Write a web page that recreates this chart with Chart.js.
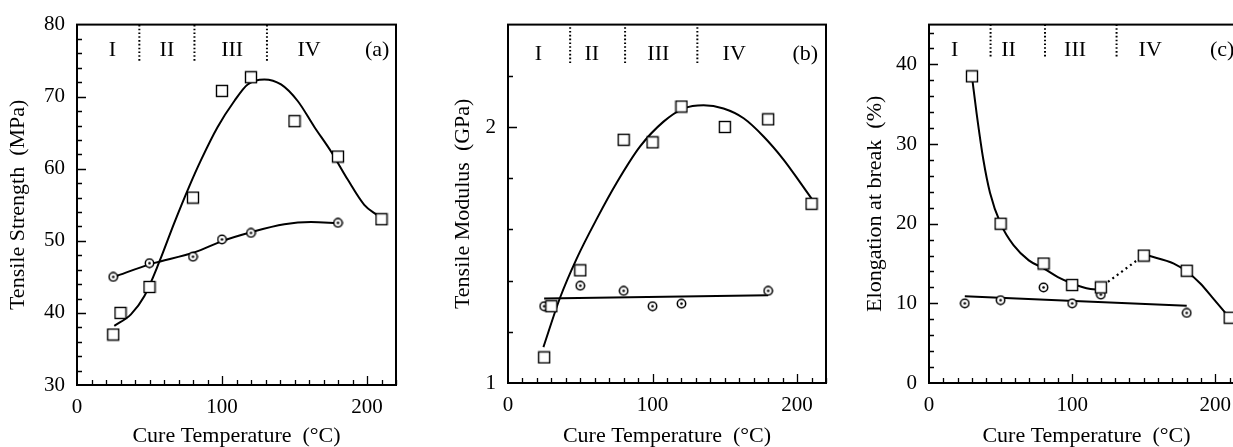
<!DOCTYPE html>
<html><head><meta charset="utf-8">
<script src="https://cdn.jsdelivr.net/npm/chart.js@4/dist/chart.umd.min.js"></script>
<style>
html,body{margin:0;padding:0;background:#fff;overflow:hidden;width:1233px;height:447px;position:relative;}
canvas{position:absolute;top:0;display:block;}
</style></head><body>
<canvas id="ca" width="410" height="447" style="left:0px"></canvas>
<canvas id="cb" width="420" height="447" style="left:420px"></canvas>
<canvas id="cc" width="418" height="447" style="left:840px"></canvas>
<script>
// ---------- DATA ----------
const sqTemp   = [25, 30, 50, 80, 100, 120, 150, 180, 210];
const circTemp = [25, 50, 80, 100, 120, 180];
const strengthSq   = [37, 40, 43.6, 56, 70.8, 72.7, 66.6, 61.7, 53];
const strengthCirc = [45, 46.9, 47.8, 50.2, 51.1, 52.5];
const modulusSq    = [1.10, 1.30, 1.44, 1.95, 1.94, 2.08, 2.00, 2.03, 1.70];
const modulusCirc  = [1.30, 1.38, 1.36, 1.30, 1.31, 1.36];
const elongSqTemp  = [30, 50, 80, 100, 120, 150, 180, 210];
const elongSq      = [38.5, 20, 15, 12.3, 12, 16, 14.1, 8.2];
const elongCirc    = [10, 10.4, 12, 10, 11.1, 8.8];

// fitted curves
const fitStrSqT = [25.7, 37.2, 46.4, 56.8, 67.1, 77.5, 85.5, 97, 108.5, 117.7, 129.2, 140.7, 152.2, 163.7, 175.2, 186.7, 198.1, 207.4];
const fitStrSqV = [38.2, 39.8, 42.3, 47.1, 52.5, 57.6, 61.2, 65.8, 69.4, 71.7, 72.4, 71.7, 69.4, 65.8, 62.4, 58.5, 55.0, 53.5];
const fitStrCiT = [25.7, 51, 80.9, 100.5, 120, 143, 161.4, 179.8];
const fitStrCiV = [45.0, 46.8, 48.4, 50.0, 51.2, 52.3, 52.6, 52.45];
const fitModSqT = [24.5, 36, 47.6, 61.4, 75.3, 91.4, 107.6, 121.4, 135.3, 149.1, 163, 176.8, 190.6, 202.2, 210.3];
const fitModSqV = [1.14, 1.333, 1.487, 1.641, 1.783, 1.924, 2.021, 2.072, 2.085, 2.072, 2.034, 1.963, 1.873, 1.783, 1.718];
const fitModCiT = [25, 180];
const fitModCiV = [1.33, 1.343];
const fitElSq1T = [30, 33.3, 38, 42.6, 50, 59, 69.7, 80, 90, 100, 110, 120];
const fitElSq1V = [38.5, 33.8, 28.0, 23.9, 20, 17.3, 15.4, 14.4, 13.3, 12.5, 11.9, 11.7];
const fitElDotT = [125, 146];
const fitElDotV = [12.7, 15.5];
const fitElSq2T = [153, 171, 180, 189.5, 199, 207];
const fitElSq2V = [16.0, 15.0, 14.0, 12.5, 10.5, 8.8];
const fitElCiT  = [25, 180];
const fitElCiV  = [10.9, 9.7];

const regionNames  = ['I', 'II', 'III', 'IV'];
const regionBounds = [43, 81, 131];
const xTickLabels  = [0, 100, 200];

// ---------- helpers ----------
const SERIF = '"Liberation Serif", "Times New Roman", serif';
Chart.defaults.font.family = SERIF;
Chart.defaults.color = '#000';

function pts(xs, ys){ return xs.map((x,i)=>({x:x, y:ys[i]})); }

function squareMarker(){
  const c=document.createElement('canvas'); c.width=14; c.height=14;
  const g=c.getContext('2d');
  g.fillStyle='#fff'; g.fillRect(1,1,12,12);
  g.strokeStyle='#000'; g.lineWidth=1.4; g.strokeRect(1.5,1.5,11,11);
  return c;
}
function circleMarker(){
  const c=document.createElement('canvas'); c.width=11; c.height=11;
  const g=c.getContext('2d');
  g.beginPath(); g.arc(5.5,5.5,4.2,0,Math.PI*2);
  g.fillStyle='#fff'; g.fill();
  g.strokeStyle='#000'; g.lineWidth=1.5; g.stroke();
  g.beginPath(); g.arc(5.5,5.5,1.3,0,Math.PI*2); g.fillStyle='#000'; g.fill();
  return c;
}
const SQ = squareMarker(), CI = circleMarker();

const framePlugin = {
  id: 'frame',
  afterDatasetsDraw(chart){
    const o = chart.options.plugins.frame;
    const {ctx, chartArea:a} = chart;
    const xs = chart.scales.x, ys = chart.scales.y;
    ctx.save();
    ctx.strokeStyle = '#000';
    ctx.lineWidth = 2;
    ctx.strokeRect(a.left, a.top, a.right - a.left, a.bottom - a.top);
    ctx.lineWidth = 1.3;
    ctx.beginPath();
    for (let i = 1; i * o.xMinor <= xs.max; i++) {
      const v = i * o.xMinor;
      const px = Math.round(xs.getPixelForValue(v)) + 0.5;
      const major = Math.abs(v / o.xMajor - Math.round(v / o.xMajor)) < 1e-6;
      ctx.moveTo(px, a.bottom); ctx.lineTo(px, a.bottom - (major ? 9 : 5));
    }
    const n = Math.round((ys.max - ys.min) / o.yMinor);
    for (let i = 1; i < n; i++) {
      const v = ys.min + i * o.yMinor;
      const py = Math.round(ys.getPixelForValue(v)) + 0.5;
      const r = (v - ys.min) / o.yMajor;
      const major = Math.abs(r - Math.round(r)) < 1e-6;
      ctx.moveTo(a.left, py); ctx.lineTo(a.left + (major ? 9 : 5), py);
    }
    ctx.stroke();
    ctx.fillStyle = '#000';
    ctx.font = '22px ' + SERIF;
    ctx.textAlign = 'center';
    ctx.textBaseline = 'alphabetic';
    const ly = ys.getPixelForValue(o.labelY);
    o.labelX.forEach((lx, i) => ctx.fillText(regionNames[i], xs.getPixelForValue(lx), ly));
    ctx.fillText(o.panel, xs.getPixelForValue(o.panelX), ly);
    ctx.restore();
  }
};

function makePanel(id, p){
  const datasets = [
    {data: pts(p.sqT, p.sqV), pointStyle: SQ, pointRadius: 7, showLine: false, order: 0},
    {data: pts(circTemp, p.ciV), pointStyle: CI, pointRadius: 5, showLine: false, order: 1},
  ];
  p.curves.forEach(c => datasets.push({
    data: pts(c[0], c[1]), showLine: true, pointRadius: 0, borderColor: '#000',
    borderWidth: c[2] ? 2.2 : 2, borderDash: c[2] ? [2, 3.5] : [],
    cubicInterpolationMode: 'monotone', order: 5
  }));
  regionBounds.forEach(b => datasets.push({
    data: [{x: b, y: p.bndLo}, {x: b, y: p.yMax}], showLine: true, pointRadius: 0,
    borderColor: '#000', borderWidth: 2, borderDash: [1.6, 2.2], order: 6
  }));
  return new Chart(document.getElementById(id), {
    type: 'scatter',
    data: {datasets},
    plugins: [framePlugin],
    options: {
      responsive: false, animation: false,
      layout: {padding: {top: p.padTop, right: p.padRight, left: 0, bottom: 0}},
      plugins: {legend: {display: false}, tooltip: {enabled: false},
        frame: {xMinor: 10, xMajor: 100, yMinor: p.yMinor, yMajor: p.yMajor,
                labelX: p.labelX, labelY: p.labelY, panel: p.panel, panelX: p.panelX}},
      scales: {
        x: {type: 'linear', min: 0, max: 220,
            afterBuildTicks: s => { s.ticks = xTickLabels.map(v => ({value: v})); },
            afterFit: s => { s.height = p.xHeight; },
            grid: {display: false, drawTicks: false}, border: {display: false},
            ticks: {font: {size: 21}, padding: 10, maxRotation: 0, color: '#000'},
            title: {display: true, text: 'Cure Temperature  (°C)', font: {size: 22, lineHeight: 1.0}, padding: {top: 0, bottom: 0}, color: '#000'}},
        y: {type: 'linear', min: p.yMin, max: p.yMax,
            afterBuildTicks: s => { s.ticks = p.yLabels.map(v => ({value: v})); },
            afterFit: s => { s.width = p.yWidth; },
            grid: {display: false, drawTicks: false}, border: {display: false},
            ticks: {font: {size: 21}, padding: 12, color: '#000'},
            title: {display: true, text: p.yTitle, font: {size: 22, lineHeight: 1.2}, padding: {top: p.yTitlePad, bottom: 0}, color: '#000'}}
      }
    }
  });
}

makePanel('ca', {
  sqT: sqTemp, sqV: strengthSq, ciV: strengthCirc,
  curves: [[fitStrSqT, fitStrSqV], [fitStrCiT, fitStrCiV]],
  yMin: 30, yMax: 80, yMinor: 2, yMajor: 10, yLabels: [30, 40, 50, 60, 70, 80],
  bndLo: 75, padTop: 19, padRight: 14, yWidth: 77, xHeight: 62, yTitlePad: 5.1,
  yTitle: 'Tensile Strength  (MPa)', labelX: [24.5, 62, 107, 160], labelY: 75.6, panel: '(a)', panelX: 207
});
makePanel('cb', {
  sqT: sqTemp, sqV: modulusSq, ciV: modulusCirc,
  curves: [[fitModSqT, fitModSqV], [fitModCiT, fitModCiV]],
  yMin: 1, yMax: 2.4, yMinor: 0.2, yMajor: 1, yLabels: [1, 2],
  bndLo: 2.25, padTop: 20, padRight: 14, yWidth: 88, xHeight: 64, yTitlePad: 29.8,
  yTitle: 'Tensile Modulus  (GPa)', labelX: [21, 58, 104, 156.5], labelY: 2.26, panel: '(b)', panelX: 205.7
});
makePanel('cc', {
  sqT: elongSqTemp, sqV: elongSq, ciV: elongCirc,
  curves: [[fitElSq1T, fitElSq1V], [fitElDotT, fitElDotV, true], [fitElSq2T, fitElSq2V], [fitElCiT, fitElCiV]],
  yMin: 0, yMax: 45, yMinor: 2, yMajor: 10, yLabels: [0, 10, 20, 30, 40],
  bndLo: 41, padTop: 19, padRight: 14, yWidth: 89, xHeight: 64, yTitlePad: 21.8,
  yTitle: 'Elongation at break  (%)', labelX: [18, 55.5, 102, 154.5], labelY: 41.1, panel: '(c)', panelX: 204.7
});
</script>
</body></html>
